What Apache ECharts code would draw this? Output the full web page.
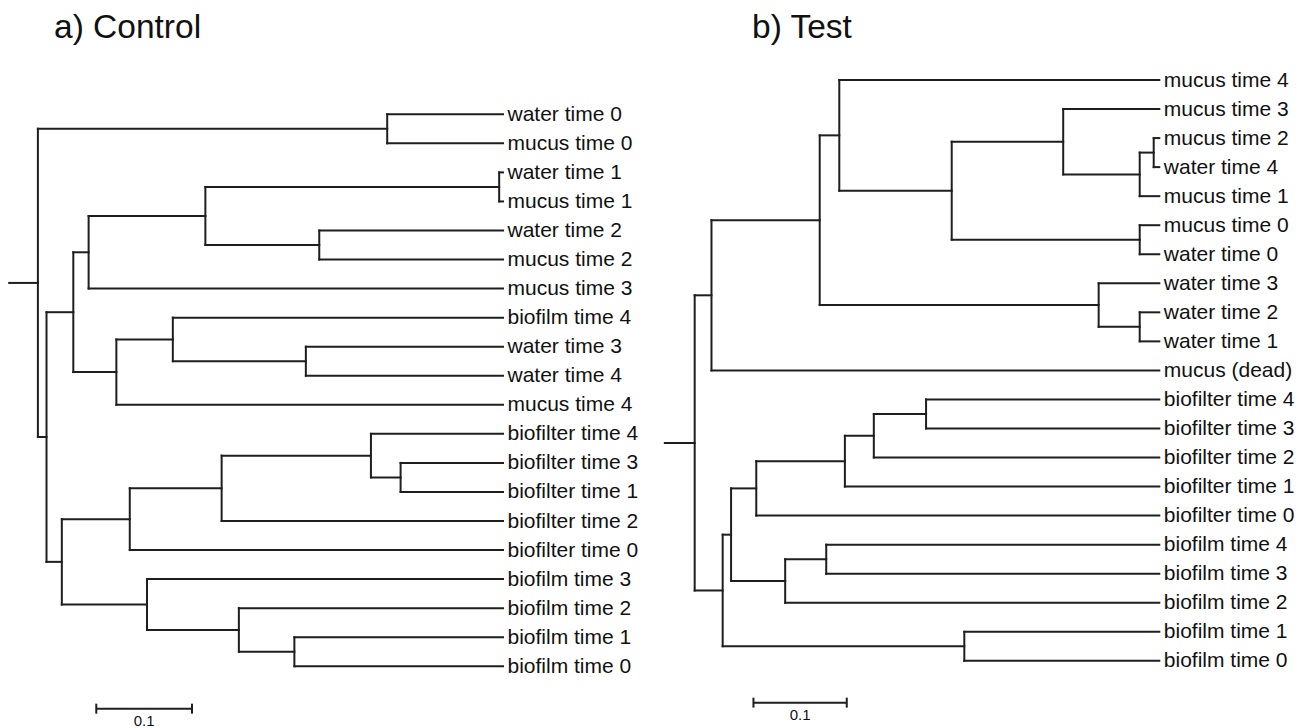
<!DOCTYPE html>
<html><head><meta charset="utf-8">
<script src="https://cdn.jsdelivr.net/npm/echarts@6/dist/echarts.min.js"></script>
<style>html,body{margin:0;padding:0;background:#fff}#c{width:1305px;height:728px}</style>
</head><body><div id="c"></div>
<script>
// Trees: leaves are strings; internal nodes are [height (distance units), child, child]
const controlTree = [0.486,
  [0.121, 'water time 0', 'mucus time 0'],
  [0.477,
    [0.449,
      [0.433,
        [0.311, [0.004, 'water time 1', 'mucus time 1'], [0.192, 'water time 2', 'mucus time 2']],
        'mucus time 3'],
      [0.404,
        [0.345, 'biofilm time 4', [0.206, 'water time 3', 'water time 4']],
        'mucus time 4']],
    [0.461,
      [0.390,
        [0.294, [0.138, 'biofilter time 4', [0.107, 'biofilter time 3', 'biofilter time 1']], 'biofilter time 2'],
        'biofilter time 0'],
      [0.372, 'biofilm time 3', [0.276, 'biofilm time 2', [0.218, 'biofilm time 1', 'biofilm time 0']]]]]];

const testTree = [0.498,
  [0.480,
    [0.364,
      [0.343, 'mucus time 4',
        [0.2225,
          [0.103, 'mucus time 3', [0.021, [0.006, 'mucus time 2', 'water time 4'], 'mucus time 1']],
          [0.021, 'mucus time 0', 'water time 0']]],
      [0.065, 'water time 3', [0.021, 'water time 2', 'water time 1']]],
    'mucus (dead)'],
  [0.468,
    [0.459,
      [0.432,
        [0.337, [0.306, [0.250, 'biofilter time 4', 'biofilter time 3'], 'biofilter time 2'], 'biofilter time 1'],
        'biofilter time 0'],
      [0.401, [0.357, 'biofilm time 4', 'biofilm time 3'], 'biofilm time 2']],
    [0.209, 'biofilm time 1', 'biofilm time 0']]];

const rootStubs = [0.030, 0.032];
const titles = ['a) Control', 'b) Test'];
const scaleBarLength = 0.1;
const scaleBarLabel = '0.1';

function layout(tree, stub) {
  const segs = [], leaves = [], names = [];
  function walk(n) {
    if (typeof n === 'string') {
      const y = leaves.length;
      leaves.push([0, y]); names.push(n);
      return {h: 0, y: y};
    }
    const kids = n.slice(1).map(walk);
    const h = n[0];
    const y0 = kids[0].y, y1 = kids[kids.length - 1].y;
    segs.push([h, y0, h, y1]);
    kids.forEach(k => segs.push([h, k.y, k.h, k.y]));
    return {h: h, y: (y0 + y1) / 2};
  }
  const r = walk(tree);
  segs.push([r.h + stub, r.y, r.h, r.y]);
  return {segs, leaves, names};
}

const L = layout(controlTree, rootStubs[0]);
const R = layout(testTree, rootStubs[1]);

const LINE = '#1e1e1e', TEXT = '#111';
const FONT = "'Liberation Sans', Arial, sans-serif";

function segItem(params, api) {
  const a = api.coord([api.value(0), api.value(1)]);
  const b = api.coord([api.value(2), api.value(3)]);
  return {type: 'line', shape: {x1: a[0], y1: a[1], x2: b[0], y2: b[1]},
    style: {stroke: LINE, lineWidth: 2, lineCap: 'square'}};
}
function labelItemFor(names) {
  return function (params, api) {
    const p = api.coord([api.value(0), api.value(1)]);
    return {type: 'text', x: p[0] + 4.5, y: p[1] - 1,
      style: {text: names[params.dataIndex], fill: TEXT, fontSize: 21, fontFamily: FONT,
        align: 'left', verticalAlign: 'middle'}};
  };
}
function scaleItem(params, api) {
  const a = api.coord([api.value(0), api.value(1)]);
  const b = api.coord([api.value(2), api.value(3)]);
  const st = {stroke: LINE, lineWidth: 2};
  return {type: 'group', children: [
    {type: 'line', shape: {x1: a[0], y1: a[1], x2: b[0], y2: b[1]}, style: st},
    {type: 'line', shape: {x1: a[0], y1: a[1] - 5, x2: a[0], y2: a[1] + 5}, style: st},
    {type: 'line', shape: {x1: b[0], y1: b[1] - 5, x2: b[0], y2: b[1] + 5}, style: st},
    {type: 'text', x: (a[0] + b[0]) / 2, y: a[1] + 4,
      style: {text: scaleBarLabel, fill: TEXT, fontSize: 15, fontFamily: FONT, align: 'center', verticalAlign: 'top'}}
  ]};
}

const chart = echarts.init(document.getElementById('c'), null, {renderer: 'svg'});
chart.setOption({
  animation: false,
  backgroundColor: '#fff',
  title: [
    {text: titles[0], left: 54, top: 9, padding: 0, textStyle: {fontSize: 33.5, fontWeight: 'normal', color: TEXT, fontFamily: FONT}},
    {text: titles[1], left: 752, top: 9, padding: 0, textStyle: {fontSize: 33.5, fontWeight: 'normal', color: TEXT, fontFamily: FONT}}
  ],
  grid: [
    {left: 5.36, width: 497.64, top: 85.25, height: 639.1},
    {left: 655.5, width: 503.8, top: 50.96, height: 638.9}
  ],
  xAxis: [
    {gridIndex: 0, type: 'value', min: 0, max: 0.52, inverse: true, show: false},
    {gridIndex: 1, type: 'value', min: 0, max: 0.54, inverse: true, show: false}
  ],
  yAxis: [
    {gridIndex: 0, type: 'value', min: -1, max: 21, inverse: true, show: false},
    {gridIndex: 1, type: 'value', min: -1, max: 21, inverse: true, show: false}
  ],
  series: [
    {type: 'custom', xAxisIndex: 0, yAxisIndex: 0, clip: false, silent: true, renderItem: segItem, data: L.segs},
    {type: 'custom', xAxisIndex: 1, yAxisIndex: 1, clip: false, silent: true, renderItem: segItem, data: R.segs},
    {type: 'custom', xAxisIndex: 0, yAxisIndex: 0, clip: false, silent: true, renderItem: labelItemFor(L.names), data: L.leaves},
    {type: 'custom', xAxisIndex: 1, yAxisIndex: 1, clip: false, silent: true, renderItem: labelItemFor(R.names), data: R.leaves},
    {type: 'custom', xAxisIndex: 0, yAxisIndex: 0, clip: false, silent: true, renderItem: scaleItem,
      data: [[0.425, 20.46, 0.425 - scaleBarLength, 20.46]]},
    {type: 'custom', xAxisIndex: 1, yAxisIndex: 1, clip: false, silent: true, renderItem: scaleItem,
      data: [[0.435, 21.44, 0.435 - scaleBarLength, 21.44]]}
  ]
});
</script></body></html>
